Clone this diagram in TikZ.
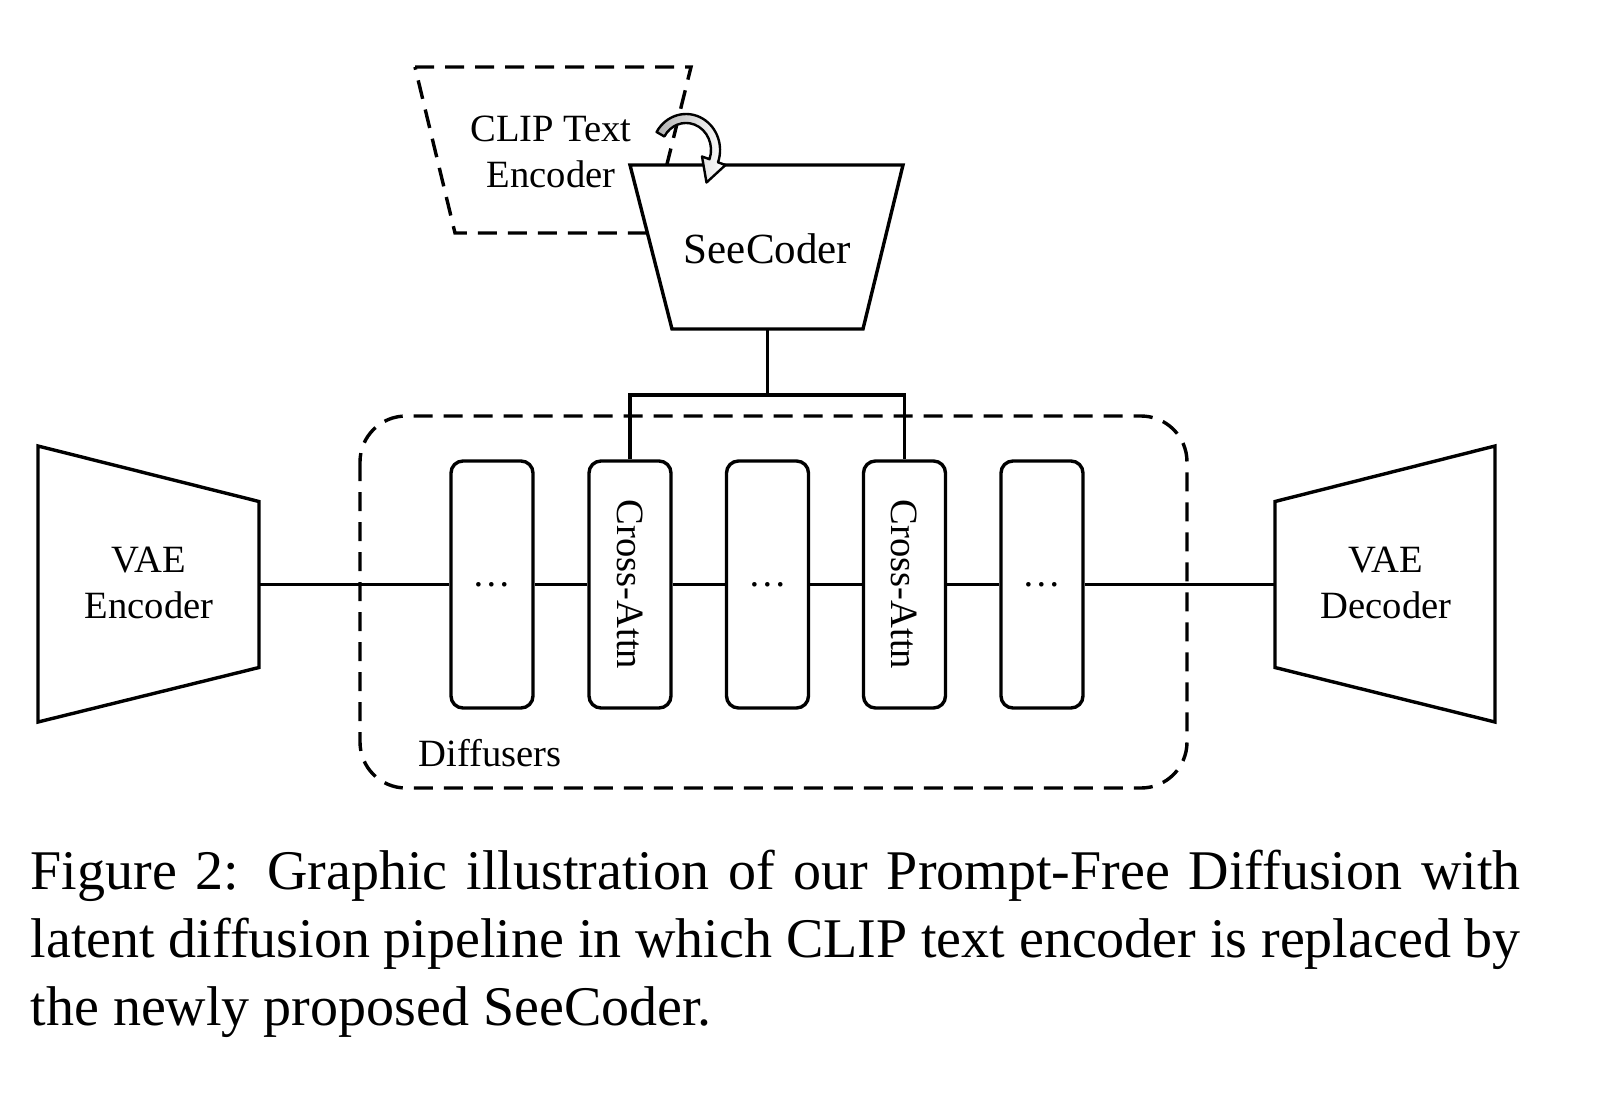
\documentclass[tikz,border=0pt]{standalone}
\usepackage{fontspec}
\setmainfont{Liberation Serif}
\begin{document}
\begin{tikzpicture}[x=0.5pt,y=-0.5pt, line width=1.7pt,
  lbl/.style={font=\fontsize{19.3}{23}\selectfont, align=center, inner sep=0pt},
  blk/.style={draw, rounded corners=6pt, minimum width=41pt, minimum height=123.5pt, inner sep=0pt, fill=white},
  dsh/.style={dash pattern=on 9.5pt off 5.5pt},
  capt/.style={anchor=north west, inner sep=0pt, text width=745pt, align=justify, font=\fontsize{28}{34}\selectfont}]
\useasboundingbox (0,0) rectangle (1608,1104);

% CLIP text encoder (dashed)
\draw[dsh] (415,67) -- (691,67) -- (650,233) -- (455,233) -- cycle;
\node[lbl] (clip) at (551,152) {CLIP Text\\Encoder};

% SeeCoder
\draw[fill=white] (630,165) -- (903,165) -- (863,329) -- (672,329) -- cycle;
\node[lbl, font=\fontsize{21.5}{26}\selectfont] (see) at (767.5,249) {SeeCoder};
\coordinate (seeB) at (767.5,329);

% curved replacement arrow
\shadedraw[left color=gray!60, right color=white, line width=1.2pt, line join=round]
  (656.6,132) arc[start angle=-150, end angle=20, x radius=34, y radius=36]
  -- (725.5,165) -- (706.5,182.5) -- (702,156.5) -- (709.5,159.2)
  arc[start angle=20, end angle=-150, x radius=25, y radius=27] -- cycle;

% Diffusers frame
\draw[dsh, rounded corners=23pt] (360,416) rectangle (1187,788);
\node[lbl] (dl) at (490,753) {Diffusers};

% VAE encoder / decoder
\draw (38,446) -- (259,501.5) -- (259,667.5) -- (38,722) -- cycle;
\node[lbl] (enc) at (149,583) {VAE\\Encoder};
\coordinate (encR) at (259,584.5);
\draw (1275,501.5) -- (1495,446) -- (1495,722) -- (1275,667.5) -- cycle;
\node[lbl] (dec) at (1386,583) {VAE\\Decoder};
\coordinate (decL) at (1275,584.5);

% blocks
\foreach \n/\x in {b1/492,b2/630,b3/767.5,b4/904.5,b5/1042}
  \node[blk] (\n) at (\x,584.5) {};
\node[lbl] (d1) at (b1) {…};
\node[lbl] (d3) at (b3) {…};
\node[lbl] (d5) at (b5) {…};
\node[lbl, rotate=-90] (ca1) at (b2) {Cross-Attn};
\node[lbl, rotate=-90] (ca2) at (b4) {Cross-Attn};

% connectors
\draw (encR) -- (b1.west);
\draw (b1.east) -- (b2.west);
\draw (b2.east) -- (b3.west);
\draw (b3.east) -- (b4.west);
\draw (b4.east) -- (b5.west);
\draw (b5.east) -- (decL);
\coordinate (j) at (767.5,395);
\draw (seeB) -- (j);
\draw (b2.north) |- (j) -| (b4.north);

% caption
\node[capt] (cap) at (29,848) {\hyphenpenalty=10000 Figure 2: Graphic illustration of our Prompt-Free Diffusion with\linebreak latent diffusion pipeline in which CLIP text encoder is replaced by\linebreak the newly proposed SeeCoder.};
\end{tikzpicture}
\end{document}
